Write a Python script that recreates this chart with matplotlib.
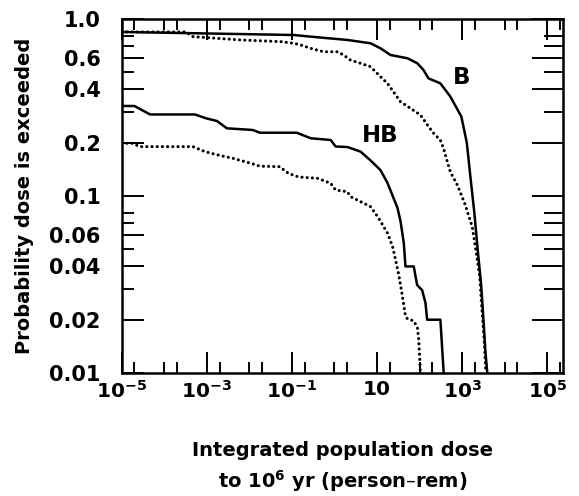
import matplotlib
matplotlib.use('Agg')
import matplotlib.pyplot as plt

plt.rcParams['font.family'] = ['DejaVu Sans']
plt.rcParams['font.weight'] = 'bold'
plt.rcParams['mathtext.fontset'] = 'dejavusans'
plt.rcParams['mathtext.default'] = 'bf'

# ---- data ----
b_solid_x = [1e-5, 0.111, 0.275, 2.05, 7.08, 12.1, 20.8, 52, 89, 124, 162, 309, 531,
             961, 1292, 1561, 1936, 2364, 2780, 3147, 3507, 3906]
b_solid_y = [0.845, 0.812, 0.795, 0.761, 0.729, 0.683, 0.626, 0.600, 0.562, 0.515, 0.462,
             0.433, 0.364, 0.281, 0.1995, 0.1297, 0.0808, 0.0477, 0.0323, 0.0208, 0.0135, 0.01]

b_dot_x = [1e-5, 3.27e-4, 4.77e-4, 6.35e-3, 0.055, 0.111, 0.162, 0.275, 0.556, 1.18, 1.64,
           2.39, 4.1, 7.03, 12.1, 17.6, 24.4, 35.6, 61, 105, 153, 211, 308, 363, 451, 530,
           773, 1190, 1737, 2155, 2605, 2825, 3147, 3412, 3600]
b_dot_y = [0.845, 0.845, 0.795, 0.761, 0.745, 0.729, 0.713, 0.683, 0.653, 0.653, 0.626,
           0.586, 0.562, 0.538, 0.472, 0.433, 0.388, 0.341, 0.313, 0.287, 0.252, 0.227,
           0.207, 0.187, 0.156, 0.1367, 0.1154, 0.089, 0.0668, 0.0477, 0.0349, 0.0258,
           0.0182, 0.0135, 0.01]

hb_solid_x = [1e-5, 2.0e-5, 4.68e-5, 5.3e-4, 9.6e-4, 1.74e-3, 2.98e-3, 0.0121, 0.0177, 0.130,
              0.28, 0.817, 1.07, 2.04, 4.13, 7.08, 12.1, 17.7, 24.5, 30.4, 35.7, 42.7, 46.8,
              73.2, 87.9, 115, 138, 151, 309, 370]
hb_solid_y = [0.3225, 0.3225, 0.2888, 0.2888, 0.2748, 0.2653, 0.2412, 0.236, 0.2278, 0.2278,
              0.2118, 0.2072, 0.1904, 0.189, 0.178, 0.1587, 0.140, 0.1184, 0.0974, 0.0855,
              0.0722, 0.0543, 0.040, 0.040, 0.0314, 0.0294, 0.0249, 0.020, 0.020, 0.01]

hb_dot_x = [1e-5, 1.84e-5, 2.63e-5, 4.77e-4, 9.1e-4, 2.05e-3, 4.12e-3, 0.0109, 0.0177, 0.0521,
            0.0824, 0.1453, 0.398, 0.815, 1.07, 2.0, 2.4, 4.12, 7.07, 10.4, 13.6, 17.8, 23.3,
            27.4, 32.6, 39.1, 46.8, 52.1, 73.2, 89.3, 95.9, 105]
hb_dot_y = [0.1985, 0.1985, 0.19, 0.19, 0.178, 0.1694, 0.1633, 0.153, 0.1474, 0.1464, 0.1343,
            0.128, 0.1259, 0.118, 0.108, 0.1058, 0.0991, 0.0929, 0.087, 0.0764, 0.0686,
            0.0615, 0.0517, 0.0435, 0.0358, 0.0276, 0.021, 0.0202, 0.0197, 0.018, 0.0154, 0.01]

y_ticks = [0.01, 0.02, 0.04, 0.06, 0.1, 0.2, 0.4, 0.6, 1.0]
y_tick_labels = ['0.01', '0.02', '0.04', '0.06', '0.1', '0.2', '0.4', '0.6', '1.0']
y_minor = [0.03, 0.05, 0.07, 0.08, 0.3, 0.5, 0.7, 0.8]
x_ticks = [1e-5, 1e-3, 1e-1, 1e1, 1e3, 1e5]
x_tick_labels = [r'$10^{-5}$', r'$10^{-3}$', r'$10^{-1}$', '10', r'$10^{3}$', r'$10^{5}$']
x_minor = [2e-5, 1e-4, 2e-4, 2e-3, 1e-2, 2e-2, 2e-1, 1, 2, 2e1, 1e2, 2e2, 2e3, 1e4, 2e4, 2e5]

# ---- figure ----
fig = plt.figure(figsize=(5.79, 4.96), dpi=100)
ax = fig.add_axes([0.21, 0.248, 0.7623, 0.7137])
ax.set_xscale('log')
ax.set_yscale('log')

solid_kw = dict(color='black', lw=1.8, solid_joinstyle='round')
dot_kw = dict(color='black', lw=2.2, linestyle=(0, (0.05, 1.65)), dash_capstyle='round')

ax.plot(b_dot_x, b_dot_y, **dot_kw)
ax.plot(hb_dot_x, hb_dot_y, **dot_kw)
ax.plot(b_solid_x, b_solid_y, **solid_kw)
ax.plot(hb_solid_x, hb_solid_y, **solid_kw)

ax.set_xlim(1e-5, 10 ** 5.37)
ax.set_ylim(0.01, 1.0)

ax.set_xticks(x_ticks)
ax.set_xticklabels(x_tick_labels)
ax.set_xticks(x_minor, minor=True)
ax.set_xticklabels([], minor=True)
ax.set_yticks(y_ticks)
ax.set_yticklabels(y_tick_labels)
ax.set_yticks(y_minor, minor=True)
ax.set_yticklabels([], minor=True)

ax.tick_params(which='both', direction='in', top=True, right=False, width=1.4, color='black')
ax.tick_params(axis='x', which='major', length=15, pad=5, labelsize=14.5)
ax.tick_params(axis='x', which='minor', length=8)
ax.tick_params(axis='y', which='major', length=15.5, pad=15, labelsize=15)
ax.tick_params(axis='y', which='minor', length=8.5)

for s in ax.spines.values():
    s.set_linewidth(1.8)

# right-hand ticks (longer in the original)
ax_r = ax.twinx()
ax_r.set_yscale('log')
ax_r.set_ylim(ax.get_ylim())
ax_r.set_yticks(y_ticks)
ax_r.set_yticks(y_minor, minor=True)
ax_r.set_yticklabels([])
ax_r.set_yticklabels([], minor=True)
ax_r.tick_params(axis='y', which='both', direction='in', width=1.4, color='black')
ax_r.tick_params(axis='y', which='major', length=22)
ax_r.tick_params(axis='y', which='minor', length=14)
for s in ax_r.spines.values():
    s.set_visible(False)

ax.text(960, 0.47, 'B', fontsize=16.5, fontweight='bold', ha='center', va='center')
ax.text(12.1, 0.221, 'HB', fontsize=16.5, fontweight='bold', ha='center', va='center')

ax.set_ylabel('Probability dose is exceeded', fontsize=14, fontweight='bold', labelpad=11)
ax.set_xlabel('Integrated population dose\nto $10^{6}$ yr (person\u2013rem)', fontsize=14,
              fontweight='bold', labelpad=28, linespacing=1.45)

fig.savefig('out.png', dpi=100)
